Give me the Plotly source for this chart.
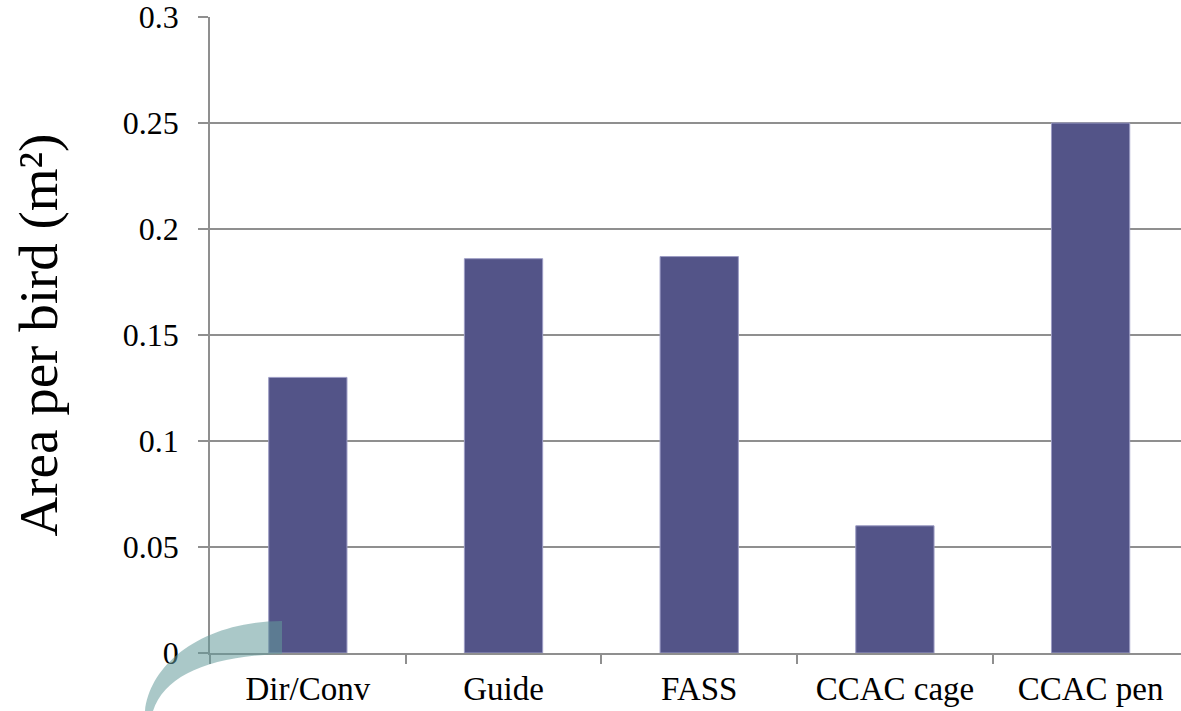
import plotly.graph_objects as go

# Space allowance per bird by standard
categories = ["Dir/Conv", "Guide", "FASS", "CCAC cage", "CCAC pen"]
area_per_bird = [0.13, 0.186, 0.187, 0.06, 0.25]
y_ticks = [0, 0.05, 0.1, 0.15, 0.2, 0.25, 0.3]
y_tick_text = ["0", "0.05", "0.1", "0.15", "0.2", "0.25", "0.3"]

W, H = 1181, 711
ML, MR, MT, MB = 210, 0, 17, 58
SERIF = "Liberation Serif, Times New Roman, serif"
GRID = "#8f8f8f"

fig = go.Figure(
    go.Bar(
        x=categories,
        y=area_per_bird,
        marker=dict(color="#535488", line=dict(color="#9c9cc4", width=1)),
        width=0.4,
    )
)


def px(xp, yp):
    """Pixel position -> paper coordinates."""
    pw = W - ML - MR
    ph = H - MT - MB
    return (xp - ML) / pw, (H - MB - yp) / ph


# decorative swoosh in the lower-left corner
outer = [(145, 711), (150, 665), (200, 622), (282, 621)]
inner = [(282, 654), (210, 656), (165, 675), (153, 711)]
o = [px(*p) for p in outer]
i = [px(*p) for p in inner]
path = (
    f"M {o[0][0]},{o[0][1]} C {o[1][0]},{o[1][1]} {o[2][0]},{o[2][1]} {o[3][0]},{o[3][1]} "
    f"L {i[0][0]},{i[0][1]} C {i[1][0]},{i[1][1]} {i[2][0]},{i[2][1]} {i[3][0]},{i[3][1]} Z"
)
fig.add_shape(
    type="path", path=path, xref="paper", yref="paper",
    fillcolor="rgba(100,155,155,0.55)", line=dict(width=0), layer="above",
)

fig.update_layout(
    width=W, height=H,
    margin=dict(l=ML, r=MR, t=MT, b=MB, pad=0),
    paper_bgcolor="white", plot_bgcolor="white",
    showlegend=False,
    font=dict(family=SERIF, color="black"),
)
fig.update_xaxes(
    range=[-0.5, 4.462],
    tickson="boundaries", ticks="outside", ticklen=9, tickcolor=GRID, tickwidth=1.5,
    showline=True, linecolor=GRID, linewidth=1.5,
    showgrid=False,
    tickfont=dict(size=33, family=SERIF),
    ticklabelstandoff=6,
)
fig.update_yaxes(
    range=[0, 0.3],
    tickvals=y_ticks, ticktext=y_tick_text,
    ticks="outside", ticklen=10, tickcolor=GRID, tickwidth=1.5,
    showline=True, linecolor=GRID, linewidth=1.5,
    showgrid=True, gridcolor=GRID, gridwidth=1.5,
    zeroline=False,
    tickfont=dict(size=32, family=SERIF),
    ticklabelstandoff=13,
    ticklabeloverflow="allow",
    title=dict(text="Area per bird (m²)", font=dict(size=55, family=SERIF), standoff=48),
)

fig.write_html("out.html")
